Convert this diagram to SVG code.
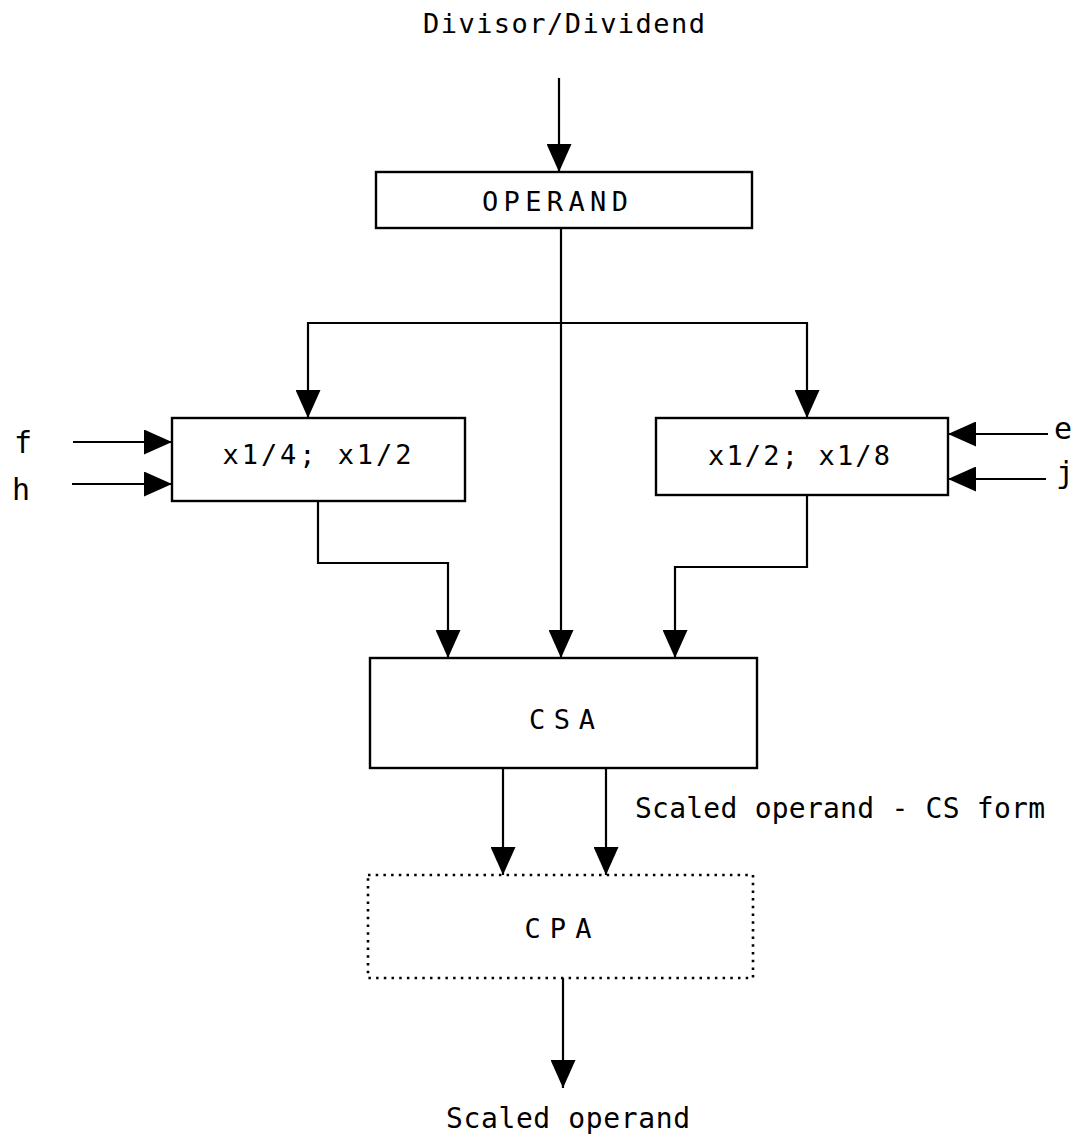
<svg xmlns="http://www.w3.org/2000/svg" width="1078" height="1141" viewBox="0 0 1078 1141">
  <defs>
    <marker id="arrow" markerUnits="userSpaceOnUse" markerWidth="28" markerHeight="25" refX="28" refY="12.5" orient="auto" viewBox="0 0 28 25">
      <path d="M0,0 L28,12.5 L0,25 Z" fill="#000"/>
    </marker>
    <style>
      .box { fill: #fff; stroke: #000; stroke-width: 2.4; }
      .dotted { fill: #fff; stroke: #000; stroke-width: 2.6; stroke-dasharray: 2.5 5.2; }
      .wire { fill: none; stroke: #000; stroke-width: 2.2; }
      .arr { marker-end: url(#arrow); }
      text { font-family: "DejaVu Sans Mono", "Liberation Mono", monospace; fill: #000; }
      .lbl { font-size: 27px; text-anchor: middle; }
    </style>
  </defs>
  <rect width="1078" height="1141" fill="#fff"/>

  <!-- connectors -->
  <g id="connectors">
    <line class="wire arr" x1="559" y1="78" x2="559" y2="172"/>
    <line class="wire arr" x1="561" y1="228" x2="561" y2="658"/>
    <polyline class="wire" points="308,323 807,323"/>
    <line class="wire arr" x1="308" y1="322" x2="308" y2="418"/>
    <line class="wire arr" x1="807" y1="322" x2="807" y2="418"/>
    <line class="wire arr" x1="73" y1="442" x2="172" y2="442"/>
    <line class="wire arr" x1="72" y1="484" x2="172" y2="484"/>
    <line class="wire arr" x1="1048" y1="434" x2="948" y2="434"/>
    <line class="wire arr" x1="1046" y1="479" x2="948" y2="479"/>
    <polyline class="wire arr" points="318,501 318,563 448,563 448,658"/>
    <polyline class="wire arr" points="807,495 807,567 675,567 675,658"/>
    <line class="wire arr" x1="503" y1="768" x2="503" y2="875"/>
    <line class="wire arr" x1="606" y1="768" x2="606" y2="875"/>
    <line class="wire arr" x1="563" y1="978" x2="563" y2="1088"/>
  </g>

  <!-- input / output labels -->
  <text x="564" y="33" font-size="27" text-anchor="middle" textLength="282" lengthAdjust="spacing">Divisor/Dividend</text>
  <text x="14" y="453" font-size="30">f</text>
  <text x="12" y="500" font-size="30">h</text>
  <text x="1054" y="439" font-size="30">e</text>
  <text x="1056" y="483" font-size="30">j</text>
  <text x="635" y="818" font-size="28" textLength="410" lengthAdjust="spacing">Scaled operand - CS form</text>
  <text x="568" y="1128" font-size="28" text-anchor="middle" textLength="244" lengthAdjust="spacing">Scaled operand</text>

  <!-- nodes -->
  <g id="operand">
    <rect class="box" x="376" y="172" width="376" height="56"/>
    <text class="lbl" x="555" y="211" textLength="146" lengthAdjust="spacing">OPERAND</text>
  </g>
  <g id="shift-left">
    <rect class="box" x="172" y="418" width="293" height="83"/>
    <text class="lbl" x="317" y="464" textLength="189" lengthAdjust="spacing">x1/4; x1/2</text>
  </g>
  <g id="shift-right">
    <rect class="box" x="656" y="418" width="292" height="77"/>
    <text class="lbl" x="799" y="465" textLength="182" lengthAdjust="spacing">x1/2; x1/8</text>
  </g>
  <g id="csa">
    <rect class="box" x="370" y="658" width="387" height="110"/>
    <text class="lbl" x="562" y="729" font-size="31" textLength="66" lengthAdjust="spacing">CSA</text>
  </g>
  <g id="cpa">
    <rect class="dotted" x="368" y="875" width="385" height="103"/>
    <text class="lbl" x="558" y="938" font-size="31" textLength="67" lengthAdjust="spacing">CPA</text>
  </g>
</svg>
